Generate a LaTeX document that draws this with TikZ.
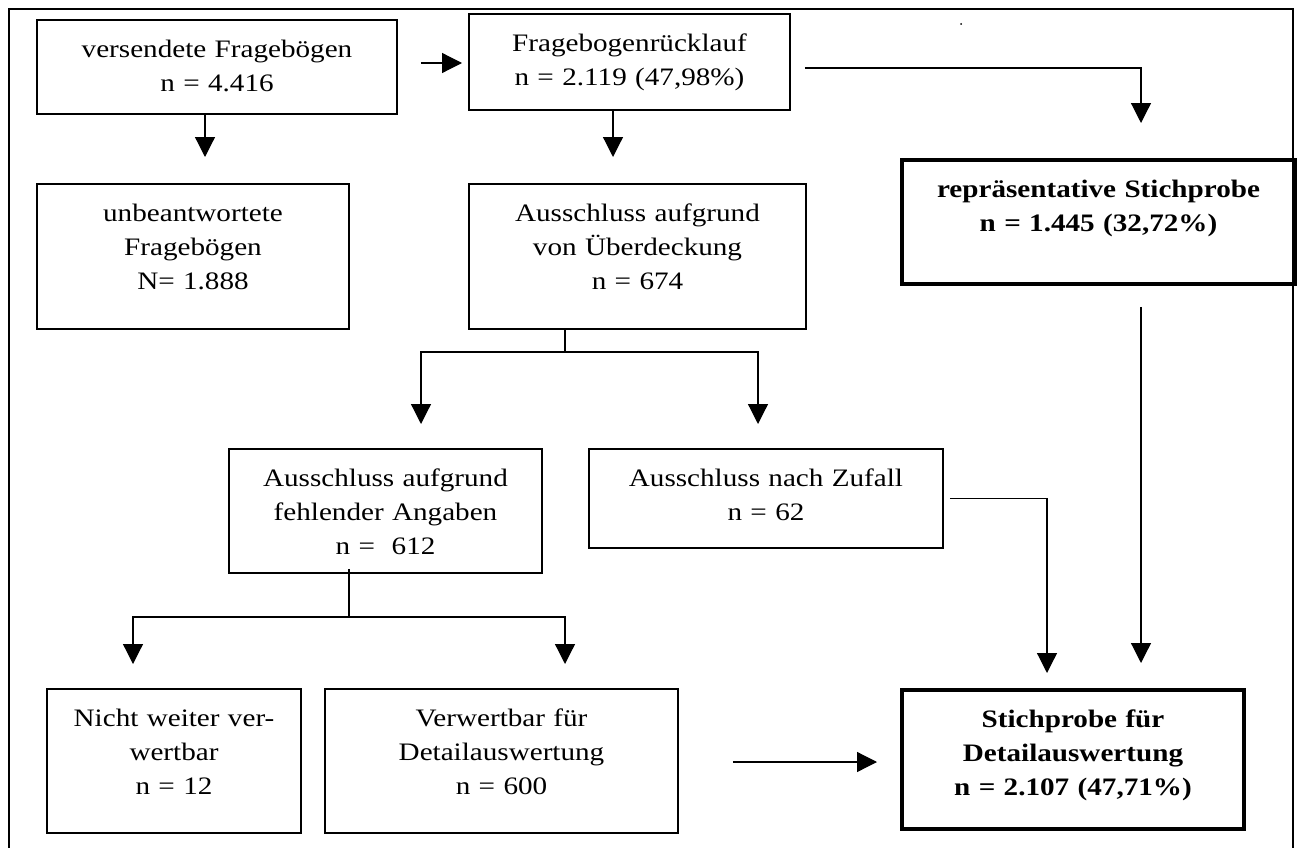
\documentclass[tikz,border=0pt]{standalone}
\usepackage{fontspec}
\setmainfont[FakeStretch=1.16]{Liberation Serif}
\usetikzlibrary{arrows.meta}

\begin{document}
\begin{tikzpicture}[x=0.02cm,y=-0.02cm,
    fragebox/.style={draw,line width=0.85pt,align=center,inner sep=0pt,outer sep=0pt,
        anchor=north,text height=0.76cm,font=\fontsize{14.3}{19.1}\selectfont},
    resultbox/.style={fragebox,line width=2.3pt,font=\fontsize{14.3}{19.1}\selectfont\bfseries},
    arr/.style={line width=0.7pt,-{Triangle[length=0.4cm,width=0.4cm]}},
    link/.style={line width=0.7pt}]
        \useasboundingbox (0,0) rectangle (1298,848);
        % frame
        \draw[line width=1.1pt] (9,850) -- (9,9) -- (1293,9) -- (1293,850);
        \fill (961,24) circle (1);

        % boxes
        \node[fragebox,text width=7.2cm,text depth=1.12cm] (versendet) at (217,20)
            {versendete Fragebögen\\n = 4.416};
        \node[fragebox,text width=6.42cm,text depth=1.16cm] (ruecklauf) at (629.5,14)
            {Fragebogenrücklauf\\n = 2.119 (47,98\%)};
        \node[fragebox,text width=6.24cm,text depth=2.14cm] (unbeantw) at (193,184)
            {unbeantwortete\\Fragebögen\\N= 1.888};
        \node[fragebox,text width=6.74cm,text depth=2.14cm] (ueberdeck) at (637.5,184)
            {Ausschluss aufgrund\\von Überdeckung\\n = 674};
        \node[resultbox,text width=7.86cm,text depth=1.72cm] (repraes) at (1098.5,160)
            {repräsentative Stichprobe\\n = 1.445 (32,72\%)};
        \node[fragebox,text width=6.26cm,text depth=1.72cm] (fehlend) at (385.5,449)
            {Ausschluss aufgrund\\fehlender Angaben\\n = \ 612};
        \node[fragebox,text width=7.08cm,text depth=1.22cm] (zufall) at (766,449)
            {Ausschluss nach Zufall\\n = 62};
        \node[fragebox,text width=5.08cm,text depth=2.12cm] (nichtverw) at (174,689)
            {Nicht weiter ver-\\wertbar\\n = 12};
        \node[fragebox,text width=7.06cm,text depth=2.12cm] (verwertbar) at (501.5,689)
            {Verwertbar für\\Detailauswertung\\n = 600};
        \node[resultbox,text width=6.84cm,text depth=2.02cm] (detail) at (1073,690)
            {Stichprobe für\\Detailauswertung\\n = 2.107 (47,71\%)};

        % arrow tips and forks
        \coordinate (t1) at (462,63);
        \coordinate (t2) at (205,157);
        \coordinate (t3) at (613,157);
        \coordinate (t4) at (1141,123);
        \coordinate (j5) at (565,352);
        \coordinate (t5a) at (421,424);
        \coordinate (t5b) at (758,424);
        \coordinate (j6) at (349,617);
        \coordinate (t6a) at (133,664);
        \coordinate (t6b) at (565,664);
        \coordinate (t7) at (1047,673);
        \coordinate (t8) at (1141,663);
        \coordinate (t9) at (877,762);

        % connectors
        \draw[arr] ([xshift=0.48cm]versendet.east |- t1) -- (t1);
        \draw[arr] (versendet.south -| t2) -- (t2);
        \draw[arr] (ruecklauf.south -| t3) -- (t3);
        \draw[arr] ([xshift=0.3cm,yshift=-0.12cm]ruecklauf.east) -| (t4);
        \draw[link] (ueberdeck.south -| j5) -- (j5);
        \draw[arr] (j5) -| (t5a);
        \draw[arr] (j5) -| (t5b);
        \draw[link] ([yshift=0.08cm]fehlend.south -| j6) -- (j6);
        \draw[arr] (j6) -| (t6a);
        \draw[arr] (j6) -| (t6b);
        \draw[arr] ([xshift=0.14cm]zufall.east) -| (t7);
        \draw[arr] ([yshift=-0.46cm]repraes.south -| t8) -- (t8);
        \draw[arr] ([xshift=1.1cm]verwertbar.east |- t9) -- (t9);
\end{tikzpicture}
\end{document}
